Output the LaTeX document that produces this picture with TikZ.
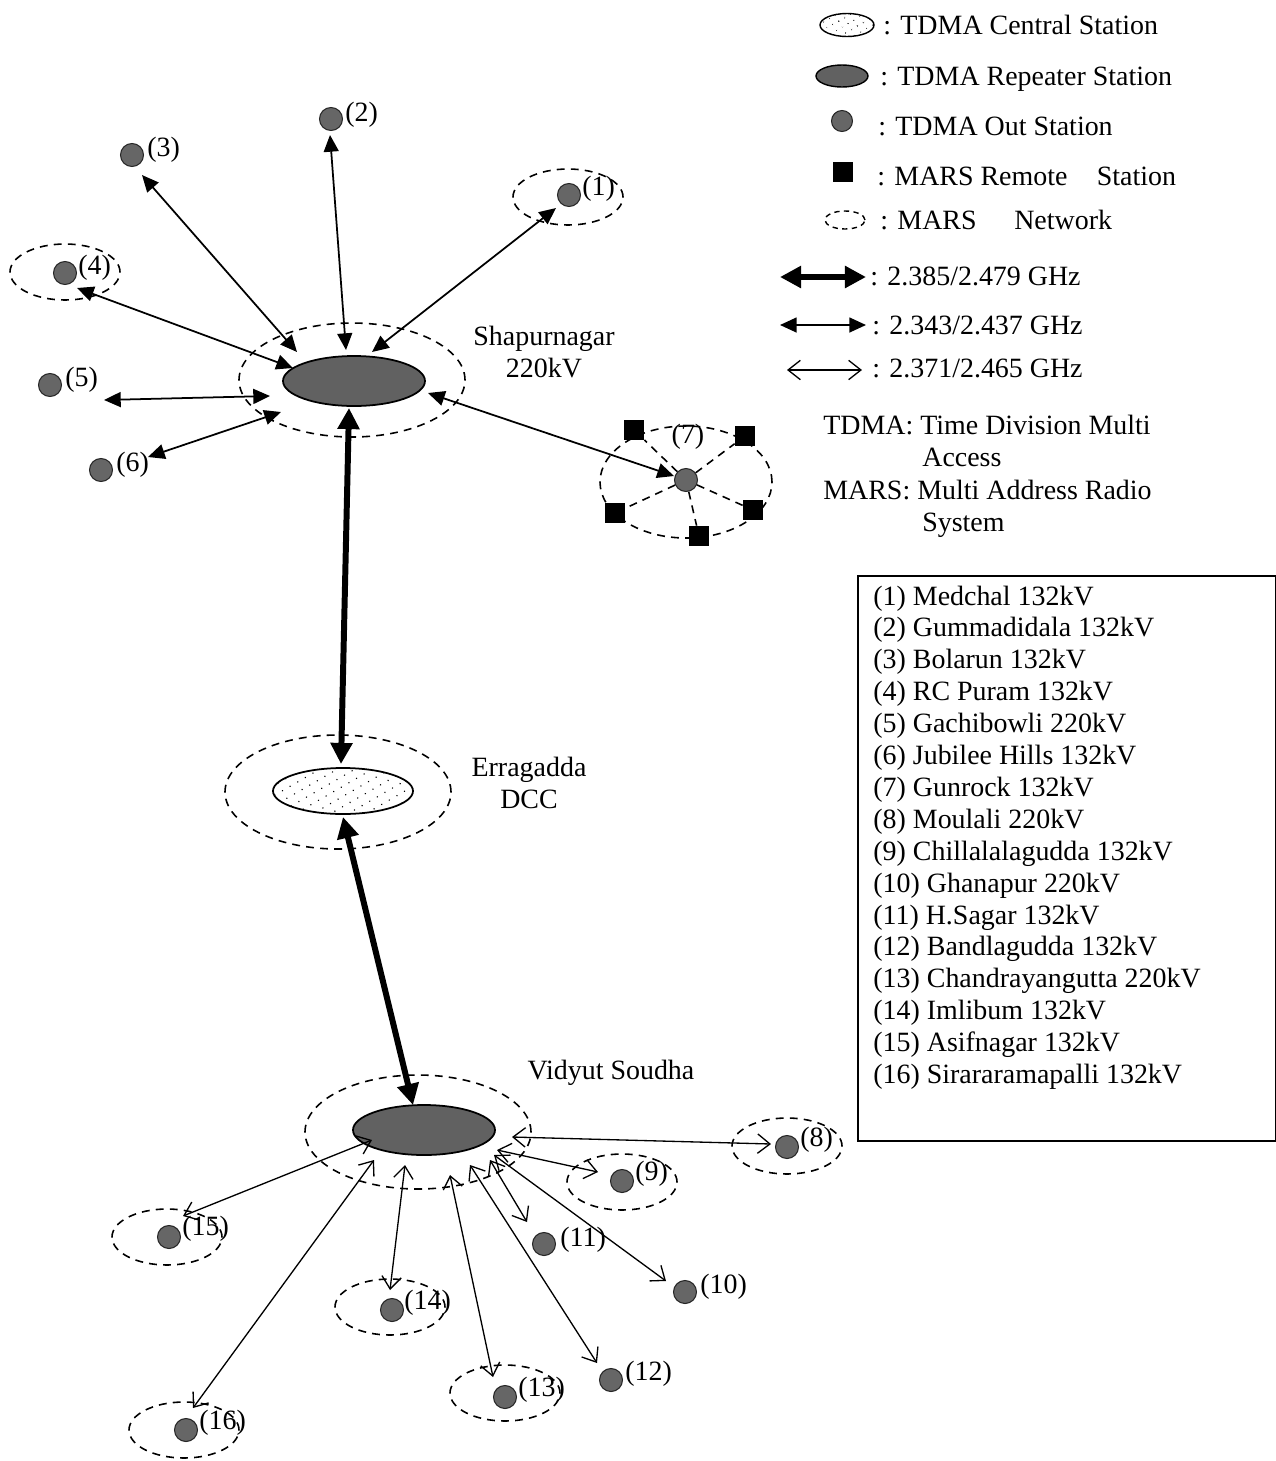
\documentclass[tikz,border=0pt]{standalone}
\usepackage{fontspec}
\setmainfont{Liberation Serif}
\usetikzlibrary{arrows.meta,shapes.geometric,patterns.meta}
\newdimen\pxu \pxu=0.02cm
\begin{document}
\begin{tikzpicture}[x=0.02cm,y=-0.02cm,
  every node/.style={font=\fontsize{15.9}{18.1}\selectfont},
  txt/.style={inner sep=0pt, anchor=base west},
  lbl/.style={inner sep=0pt, anchor=west},
  netw/.style={ellipse, draw, dash pattern=on 4.5pt off 3.5pt, line width=0.9pt, inner sep=0pt},
  mnet/.style={netw, minimum width=110*\pxu, minimum height=56*\pxu},
  bignet/.style={netw, minimum width=226*\pxu, minimum height=114*\pxu},
  rep/.style={ellipse, draw, line width=1pt, fill=black!62, inner sep=0pt, minimum width=142*\pxu, minimum height=50*\pxu},
  cen/.style={ellipse, draw, line width=1pt, pattern={Dots[radius=0.45pt,distance=5pt,angle=30]}, inner sep=0pt, minimum width=140*\pxu, minimum height=46*\pxu},
  outst/.style={circle, draw=black!85, fill=black!60, line width=0.6pt, inner sep=0pt, minimum size=23*\pxu},
  rem/.style={rectangle, fill=black, inner sep=0pt, minimum size=20*\pxu},
  dline/.style={dash pattern=on 4.5pt off 3.5pt, line width=0.9pt},
  thickarr/.style={line width=3.4pt, {Triangle[length=12pt,width=12pt]}-{Triangle[length=12pt,width=12pt]}},
  medarr/.style={line width=1pt, {Triangle[length=9.5pt,width=8.5pt]}-{Triangle[length=9.5pt,width=8.5pt]}},
  openarr/.style={line width=0.75pt, {Straight Barb[length=7pt,width=11pt]}-{Straight Barb[length=7pt,width=11pt]}}
]
\path[use as bounding box] (0,0) rectangle (1275,1461);

% ---------- Shapurnagar ----------
\node[bignet] (SNnet) at (352,380) {};
\node[rep] (SN) at (354,381) {};
\node[align=center, inner sep=0pt] (SNlbl) at (544,352) {Shapurnagar\\220kV};

% ---------- Erragadda ----------
\node[bignet] (ENnet) at (338,792) {};
\node[cen] (EN) at (343,791) {};
\node[align=center, inner sep=0pt] (ENlbl) at (529,783) {Erragadda\\DCC};

% ---------- Vidyut Soudha ----------
\node[bignet] (VSnet) at (418,1132) {};
\node[rep] (VS) at (424,1130) {};
\node[inner sep=0pt] (VSlbl) at (611,1073) {Vidyut Soudha};

% ---------- MARS networks ----------
\node[mnet] (n1) at (568,197) {};
\node[mnet] (n4) at (65,272) {};
\node[mnet] (n8) at (787,1146) {};
\node[mnet] (n9) at (622,1182) {};
\node[mnet] (n13) at (505,1393) {};
\node[mnet] (n14) at (390,1307) {};
\node[mnet] (n15) at (167,1237) {};
\node[mnet] (n16) at (184,1430) {};
\node[netw, minimum width=172*\pxu, minimum height=112*\pxu] (n7) at (686,482) {};

% ---------- out stations ----------
\node[outst] (o1) at (569,195) {};
\node[outst] (o2) at (331,119) {};
\node[outst] (o3) at (132,155) {};
\node[outst] (o4) at (65,273) {};
\node[outst] (o5) at (50,385) {};
\node[outst] (o6) at (101,470) {};
\node[outst] (o7) at (686,480) {};
\node[outst] (o8) at (787,1147) {};
\node[outst] (o9) at (622,1181) {};
\node[outst] (o10) at (685,1292) {};
\node[outst] (o11) at (544,1244) {};
\node[outst] (o12) at (611,1380) {};
\node[outst] (o13) at (505,1397) {};
\node[outst] (o14) at (392,1310) {};
\node[outst] (o15) at (169,1237) {};
\node[outst] (o16) at (186,1430) {};

\node[lbl] (t1) at (582,189) {(1)};
\node[lbl] (t2) at (345,115) {(2)};
\node[lbl] (t3) at (147,150) {(3)};
\node[lbl] (t4) at (78,268) {(4)};
\node[lbl] (t5) at (65,380) {(5)};
\node[lbl] (t6) at (116,465) {(6)};
\node[inner sep=0pt] (t7) at (688,437) {(7)};
\node[lbl] (t8) at (800,1140) {(8)};
\node[lbl] (t9) at (635,1174) {(9)};
\node[lbl] (t10) at (700,1287) {(10)};
\node[lbl] (t11) at (560,1240) {(11)};
\node[lbl] (t12) at (625,1374) {(12)};
\node[lbl] (t13) at (518,1390) {(13)};
\node[lbl] (t14) at (404,1303) {(14)};
\node[lbl] (t15) at (182,1229) {(15)};
\node[lbl] (t16) at (199,1423) {(16)};

% ---------- MARS remote stations of (7) ----------
\node[rem] (r1) at (634,430) {};
\node[rem] (r2) at (745,436) {};
\node[rem] (r3) at (615,513) {};
\node[rem] (r4) at (753,510) {};
\node[rem] (r5) at (699,536) {};
\foreach \r in {r1,r2,r3,r4,r5} \draw[dline] (o7) -- (\r);

% ---------- connector end points ----------
\coordinate (s2a) at (346,350); \coordinate (s2b) at (330,135);
\coordinate (s3a) at (297,352); \coordinate (s3b) at (142,175);
\coordinate (s1a) at (372,352); \coordinate (s1b) at (556,208);
\coordinate (s4a) at (293,368); \coordinate (s4b) at (77,288);
\coordinate (s5a) at (270,396); \coordinate (s5b) at (104,400);
\coordinate (s6a) at (281,412); \coordinate (s6b) at (148,457);
\coordinate (s7a) at (428,393); \coordinate (s7b) at (674,476);
\coordinate (k1a) at (349,408); \coordinate (k1b) at (341,764);
\coordinate (k2a) at (343,817); \coordinate (k2b) at (413,1105);
\coordinate (v8a) at (512,1137); \coordinate (v8b) at (771,1144);
\coordinate (v9a) at (497,1150); \coordinate (v9b) at (598,1172);
\coordinate (v11a) at (490,1160); \coordinate (v11b) at (527,1222);
\coordinate (v10a) at (494,1155); \coordinate (v10b) at (666,1281);
\coordinate (v12a) at (470,1165); \coordinate (v12b) at (597,1363);
\coordinate (v13a) at (450,1175); \coordinate (v13b) at (493,1377);
\coordinate (v14a) at (405,1165); \coordinate (v14b) at (390,1290);
\coordinate (v15a) at (372,1140); \coordinate (v15b) at (183,1216);
\coordinate (v16a) at (374,1160); \coordinate (v16b) at (193,1408);

% ---------- connectors ----------
\foreach \n in {1,...,7} \draw[medarr] (s\n a) -- (s\n b);
\draw[thickarr] (k1a) -- (k1b);
\draw[thickarr] (k2a) -- (k2b);
\foreach \n in {8,...,16} \draw[openarr] (v\n a) -- (v\n b);

% ---------- symbol legend ----------
\node[ellipse, draw, line width=0.8pt, pattern={Dots[radius=0.4pt,distance=4pt,angle=30]}, inner sep=0pt, minimum width=54*\pxu, minimum height=23*\pxu] (lgC) at (847,25) {};
\node[ellipse, draw, line width=0.8pt, fill=black!62, inner sep=0pt, minimum width=52*\pxu, minimum height=22*\pxu] (lgR) at (842,76) {};
\node[outst, minimum size=21*\pxu] (lgO) at (842,121) {};
\node[rem] (lgM) at (843,172) {};
\node[netw, line width=0.8pt, dash pattern=on 3pt off 2.5pt, minimum width=40*\pxu, minimum height=18*\pxu] (lgN) at (845,220) {};
\node[txt] (lgCt) at (883,34) {: TDMA Central Station};
\node[txt] (lgRt) at (880,85) {: TDMA Repeater Station};
\node[txt] (lgOt) at (878,135) {: TDMA Out Station};
\node[txt] (lgMt) at (877,185) {: MARS Remote\hspace{0.8em} Station};
\node[txt] (lgNt) at (880,229) {: MARS\hspace{1.1em} Network};

\coordinate (la1) at (780,277); \coordinate (lb1) at (866,277);
\coordinate (la2) at (780,325); \coordinate (lb2) at (866,325);
\coordinate (la3) at (787,370); \coordinate (lb3) at (862,370);
\draw[thickarr] (la1) -- (lb1);
\draw[medarr] (la2) -- (lb2);
\draw[openarr] (la3) -- (lb3);
\node[txt] (lf1) at (870,285) {: 2.385/2.479 GHz};
\node[txt] (lf2) at (872,334) {: 2.343/2.437 GHz};
\node[txt] (lf3) at (872,377) {: 2.371/2.465 GHz};

\node[txt] (ab1) at (823,434) {TDMA: Time Division Multi};
\node[txt] (ab2) at (922,466) {Access};
\node[txt] (ab3) at (823,499) {MARS: Multi Address Radio};
\node[txt] (ab4) at (922,531) {System};

% ---------- station list ----------
\node[draw, line width=0.9pt, inner sep=0pt, minimum width=418*\pxu, minimum height=565*\pxu, anchor=north west] (listbox) at (857,575) {};
\foreach \t [count=\i from 0] in {{(1) Medchal 132kV},{(2) Gummadidala 132kV},{(3) Bolarun 132kV},{(4) RC Puram 132kV},{(5) Gachibowli 220kV},{(6) Jubilee Hills 132kV},{(7) Gunrock 132kV},{(8) Moulali 220kV},{(9) Chillalalagudda 132kV},{(10) Ghanapur 220kV},{(11) H.Sagar 132kV},{(12) Bandlagudda 132kV},{(13) Chandrayangutta 220kV},{(14) Imlibum 132kV},{(15) Asifnagar 132kV},{(16) Sirararamapalli 132kV}}
  \node[txt] (li\i) at (873,{605+31.9*\i}) {\t};
\end{tikzpicture}
\end{document}
